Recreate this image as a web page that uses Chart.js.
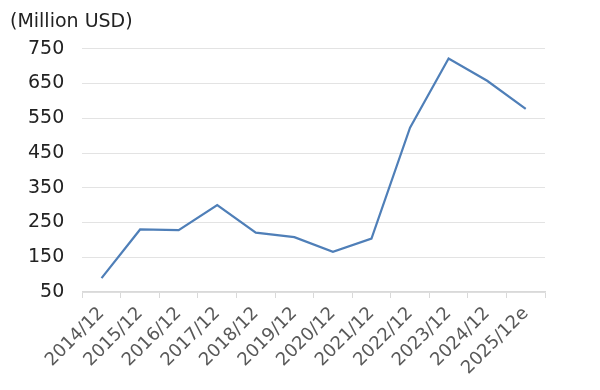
<!DOCTYPE html>
<html>
<head>
<meta charset="utf-8">
<script src="https://cdn.jsdelivr.net/npm/chart.js@4"></script>
<style>
  html, body { margin: 0; padding: 0; background: #ffffff; }
  #wrap { width: 600px; height: 390px; }
</style>
</head>
<body>
<div id="wrap"><canvas id="chart"></canvas></div>
<script>
// data
const periods = ["2014/12", "2015/12", "2016/12", "2017/12", "2018/12", "2019/12",
  "2020/12", "2021/12", "2022/12", "2023/12", "2024/12", "2025/12e"];
const revenue = [90, 230, 228, 300, 221, 208, 166, 204, 523, 722, 658, 577];
const unitLabel = "(Million USD)";

const fontFamily = "'DejaVu Sans', Verdana, sans-serif";

let ctx = document.getElementById("chart").getContext("2d");

let chart = new Chart(ctx, {
  type: 'line',
  data: {
    labels: periods,
    datasets: [{
      data: revenue,
      borderColor: '#4f7fb8',
      borderWidth: 2.2,
      pointRadius: 0,
      tension: 0,
      fill: false
    }]
  },
  options: {
    responsive: true,
    maintainAspectRatio: false,
    animation: false,
    layout: { padding: { left: 10, right: 55, top: 0, bottom: 6 } },
    plugins: {
      legend: { display: false },
      tooltip: { enabled: false },
      title: {
        display: true,
        text: unitLabel,
        align: 'start',
        color: '#222',
        font: { family: fontFamily, size: 19, weight: 'normal' },
        padding: { top: 11, bottom: 15 }
      }
    },
    scales: {
      x: {
        offset: true,
        grid: {
          offset: true,
          drawOnChartArea: false,
          drawTicks: true,
          tickLength: 6,
          color: '#d9d9d9'
        },
        border: { color: '#d9d9d9', width: 1.5 },
        ticks: {
          color: '#595959',
          font: { family: fontFamily, size: 18 },
          minRotation: 45,
          maxRotation: 45,
          autoSkip: false,
          padding: 5
        }
      },
      y: {
        min: 50,
        max: 750,
        grid: { color: '#e3e3e3', drawTicks: false, lineWidth: 1 },
        border: { display: false },
        ticks: {
          stepSize: 100,
          color: '#222',
          font: { family: fontFamily, size: 19 },
          padding: 18
        }
      }
    }
  }
});
</script>
</body>
</html>
